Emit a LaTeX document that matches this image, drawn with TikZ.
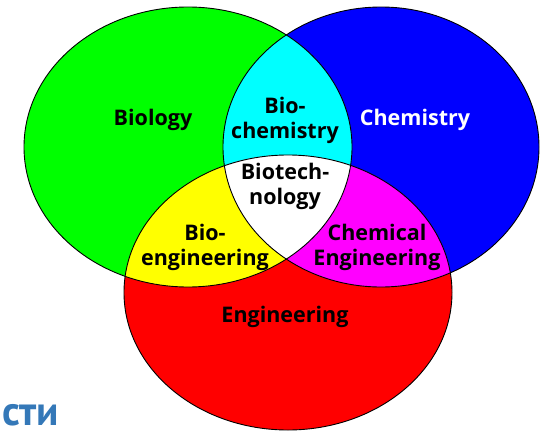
\documentclass[tikz,border=0pt]{standalone}
\usepackage{fontspec}
\setmainfont{Open Sans}
\newfontfamily\logofont{PT Sans}
\definecolor{setgreen}{RGB}{0,255,0}
\definecolor{setblue}{RGB}{0,0,255}
\definecolor{setred}{RGB}{255,0,0}
\definecolor{setcyan}{RGB}{0,255,255}
\definecolor{setyellow}{RGB}{255,255,0}
\definecolor{setmagenta}{RGB}{255,0,255}
\definecolor{logoblue}{RGB}{52,120,184}
\begin{document}
\begin{tikzpicture}[x=1pt,y=-1pt,
  setlabel/.style={font=\bfseries\fontsize{21.5}{25}\selectfont, align=center, inner sep=0pt},
  outline/.style={draw=black, line width=0.9pt}]
\useasboundingbox (0,0) rectangle (541,434);
\clip (0,0) rectangle (541,434);
% the three sets
\def\biopath{(188,147) ellipse [x radius=164pt, y radius=140pt]}
\def\chempath{(381,147) ellipse [x radius=158pt, y radius=140pt]}
\def\engpath{(288,292.5) ellipse [x radius=164pt, y radius=137.5pt]}
\fill[setgreen] \biopath;
\fill[setblue] \chempath;
\fill[setred] \engpath;
% pairwise overlaps
\begin{scope}
  \clip \biopath;
  \fill[setcyan] \chempath;
  \fill[setyellow] \engpath;
\end{scope}
\begin{scope}
  \clip \chempath;
  \fill[setmagenta] \engpath;
\end{scope}
% common part of all three
\begin{scope}
  \clip \biopath;
  \clip \chempath;
  \fill[white] \engpath;
\end{scope}
\draw[outline] \biopath;
\draw[outline] \chempath;
\draw[outline] \engpath;
% labels
\node[setlabel] (biology) at (153,120) {Biology};
\node[setlabel, text=white] (chemistry) at (415,120) {Chemistry};
\node[setlabel] (biochem) at (285,120) {Bio-\\chemistry};
\node[setlabel] (biotech) at (285,186) {Biotech-\\nology};
\node[setlabel] (bioeng) at (205,247) {Bio-\\engineering};
\node[setlabel] (chemeng) at (377,247) {Chemical\\Engineering};
\node[setlabel] (engineering) at (285,317) {Engineering};
\node[anchor=base west, inner sep=0pt, text=logoblue, font=\logofont\bfseries\fontsize{41}{41}\selectfont] (logo) at (2,425) {сти};
\end{tikzpicture}
\end{document}
